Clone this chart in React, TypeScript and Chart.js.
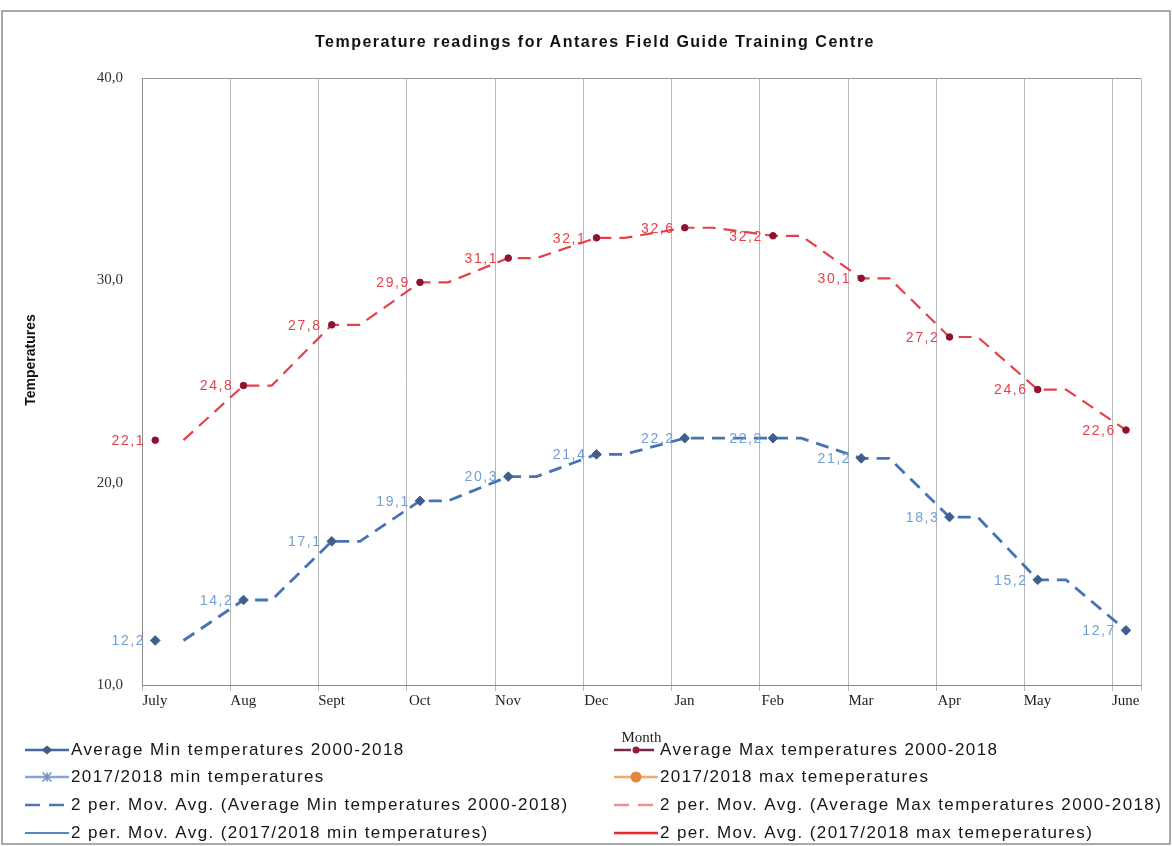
import React, { useEffect, useRef } from 'react';
import { Chart, registerables } from 'chart.js';

Chart.register(...registerables);

// ---------- data ----------
const months = ['July', 'Aug', 'Sept', 'Oct', 'Nov', 'Dec', 'Jan', 'Feb', 'Mar', 'Apr', 'May', 'June'];
const avgMinTemps = [12.2, 14.2, 17.1, 19.1, 20.3, 21.4, 22.2, 22.2, 21.2, 18.3, 15.2, 12.7];
const avgMaxTemps = [22.1, 24.8, 27.8, 29.9, 31.1, 32.1, 32.6, 32.2, 30.1, 27.2, 24.6, 22.6];
const min1718Temps: number[] = [];
const max1718Temps: number[] = [];
const yTickValues = [10, 20, 30, 40];

const chartTitle = 'Temperature readings for Antares Field Guide Training Centre';
const yTitle = 'Temperatures';
const xTitle = 'Month';

const seriesLabels = [
  'Average Min temperatures 2000-2018',
  'Average Max temperatures 2000-2018',
  '2017/2018 min temperatures',
  '2017/2018 max temeperatures',
  '2 per. Mov. Avg. (Average Min temperatures 2000-2018)',
  '2 per. Mov. Avg. (Average Max temperatures 2000-2018)',
  '2 per. Mov. Avg. (2017/2018 min temperatures)',
  '2 per. Mov. Avg. (2017/2018 max temeperatures)',
];

// ---------- layout / style constants ----------
const W = 1173;
const H = 846;
const X_MIN = -0.15;
const X_MAX = 11.17;
const TREND_SHIFT = 0.32;
const SANS = "'Liberation Sans', Arial, sans-serif";
const SERIF = "'Liberation Serif', 'Times New Roman', serif";

const fmt = (v: number) => v.toFixed(1).replace('.', ',');

function pointsOf(values: number[]) {
  return values.map((y, i) => ({ x: i, y }));
}

// 2-period moving-average trend drawn in the reference's stepped style
function trendOf(values: number[]) {
  const pts: { x: number; y: number }[] = [];
  for (let i = 1; i < values.length; i++) {
    pts.push({ x: i - 1 + TREND_SHIFT, y: values[i - 1] });
    pts.push({ x: i, y: values[i] });
  }
  return pts;
}

type LegendStyle = {
  color: string;
  width: number;
  dash: number[];
  marker: null | 'diamond' | 'star' | 'circle';
  markerColor?: string;
  markerSize?: number;
};

const legendStyles: LegendStyle[] = [
  { color: '#45699b', width: 2.5, dash: [], marker: 'diamond', markerColor: '#3d5d8a', markerSize: 4.5 },
  { color: '#7a2650', width: 2.5, dash: [17, 6], marker: 'circle', markerColor: '#951a3a', markerSize: 3.5 },
  { color: '#86a6cf', width: 2.5, dash: [], marker: 'star', markerColor: '#6f93c2', markerSize: 4.5 },
  { color: '#f0ab6c', width: 2.5, dash: [], marker: 'circle', markerColor: '#e2883c', markerSize: 5.5 },
  { color: '#4a76b8', width: 2.5, dash: [15, 9], marker: null },
  { color: '#f28f8f', width: 2.5, dash: [15, 9], marker: null },
  { color: '#5a86c2', width: 2, dash: [], marker: null },
  { color: '#e8262e', width: 2.5, dash: [], marker: null },
];

const labelColors: Record<number, string> = { 0: '#6f9fd4', 1: '#e63f49' };

function drawMarker(ctx: CanvasRenderingContext2D, kind: string, x: number, y: number, r: number, color: string) {
  ctx.save();
  ctx.fillStyle = color;
  ctx.strokeStyle = color;
  ctx.setLineDash([]);
  if (kind === 'diamond') {
    ctx.beginPath();
    ctx.moveTo(x, y - r);
    ctx.lineTo(x + r * 1.2, y);
    ctx.lineTo(x, y + r);
    ctx.lineTo(x - r * 1.2, y);
    ctx.closePath();
    ctx.fill();
  } else if (kind === 'circle') {
    ctx.beginPath();
    ctx.arc(x, y, r, 0, Math.PI * 2);
    ctx.fill();
  } else if (kind === 'star') {
    ctx.lineWidth = 1.6;
    ctx.beginPath();
    ctx.moveTo(x - r, y - r);
    ctx.lineTo(x + r, y + r);
    ctx.moveTo(x + r, y - r);
    ctx.lineTo(x - r, y + r);
    ctx.moveTo(x, y - r);
    ctx.lineTo(x, y + r);
    ctx.stroke();
  }
  ctx.restore();
}

const overlayPlugin = {
  id: 'overlay',
  afterDatasetsDraw(chart: any) {
    const ctx: CanvasRenderingContext2D = chart.ctx;
    [0, 1].forEach((di) => {
      const meta = chart.getDatasetMeta(di);
      const ds = chart.data.datasets[di];
      ctx.save();
      ctx.font = `14px ${SANS}`;
      (ctx as any).letterSpacing = '1.6px';
      ctx.fillStyle = labelColors[di];
      ctx.textAlign = 'right';
      ctx.textBaseline = 'middle';
      meta.data.forEach((el: any, i: number) => {
        const v = ds.data[i].y;
        ctx.fillText(fmt(v), el.x - 10, el.y + 1);
      });
      ctx.restore();
    });
  },
  afterDraw(chart: any) {
    const ctx: CanvasRenderingContext2D = chart.ctx;
    // title
    ctx.save();
    ctx.font = `bold 16px ${SANS}`;
    (ctx as any).letterSpacing = '1.5px';
    ctx.fillStyle = '#111';
    ctx.textAlign = 'center';
    ctx.textBaseline = 'middle';
    ctx.fillText(chartTitle, 595, 43);
    ctx.restore();

    // y title
    ctx.save();
    ctx.translate(31, 360);
    ctx.rotate(-Math.PI / 2);
    ctx.font = `bold 14px 'Liberation Sans Narrow', ${SANS}`;
    ctx.fillStyle = '#111';
    ctx.textAlign = 'center';
    ctx.textBaseline = 'middle';
    ctx.fillText(yTitle, 0, 0);
    ctx.restore();

    // legend (two columns)
    const rowsY = [750, 777, 805, 833];
    const colX = [25, 614];
    chart.data.datasets.forEach((ds: any, i: number) => {
      const st = legendStyles[i];
      const col = i % 2;
      const row = Math.floor(i / 2);
      const x0 = colX[col];
      const y = rowsY[row];
      ctx.save();
      ctx.strokeStyle = st.color;
      ctx.lineWidth = st.width;
      ctx.setLineDash(st.dash);
      ctx.beginPath();
      ctx.moveTo(x0, y);
      ctx.lineTo(x0 + 44, y);
      ctx.stroke();
      ctx.restore();
      if (st.marker) drawMarker(ctx, st.marker, x0 + 22, y, st.markerSize || 4, st.markerColor || st.color);
      ctx.save();
      ctx.font = `17px ${SANS}`;
      (ctx as any).letterSpacing = '1.4px';
      ctx.fillStyle = '#161616';
      ctx.textAlign = 'left';
      ctx.textBaseline = 'middle';
      ctx.fillText(ds.label, x0 + 46, y);
      ctx.restore();
    });

    // outer border
    ctx.save();
    ctx.strokeStyle = '#8c8c8c';
    ctx.lineWidth = 1.5;
    ctx.strokeRect(2, 11, 1168, 833);
    ctx.restore();
  },
};

export default function App() {
  const ref = useRef<HTMLCanvasElement | null>(null);

  useEffect(() => {
    if (!ref.current) return;
    const chart = new Chart(ref.current, {
      type: 'line',
      data: {
        datasets: [
          {
            label: seriesLabels[0],
            data: pointsOf(avgMinTemps),
            showLine: false,
            pointStyle: 'rectRot',
            pointRadius: 4.8,
            pointBackgroundColor: '#3e5f8c',
            pointBorderColor: '#3e5f8c',
            pointBorderWidth: 1,
            borderColor: '#3e5f8c',
            backgroundColor: '#3e5f8c',
          },
          {
            label: seriesLabels[1],
            data: pointsOf(avgMaxTemps),
            showLine: false,
            pointStyle: 'circle',
            pointRadius: 3.3,
            pointBackgroundColor: '#8e1330',
            pointBorderColor: '#8e1330',
            pointBorderWidth: 1,
            borderColor: '#8e1330',
            backgroundColor: '#8e1330',
          },
          { label: seriesLabels[2], data: pointsOf(min1718Temps), borderColor: '#86a6cf', pointRadius: 0 },
          { label: seriesLabels[3], data: pointsOf(max1718Temps), borderColor: '#f0ab6c', pointRadius: 0 },
          {
            label: seriesLabels[4],
            data: trendOf(avgMinTemps),
            borderColor: '#4673b6',
            borderWidth: 2.8,
            borderDash: [13, 8],
            pointRadius: 0,
            tension: 0,
            fill: false,
          },
          {
            label: seriesLabels[5],
            data: trendOf(avgMaxTemps),
            borderColor: '#e4414a',
            borderWidth: 2.2,
            borderDash: [13, 8],
            pointRadius: 0,
            tension: 0,
            fill: false,
          },
          { label: seriesLabels[6], data: trendOf(min1718Temps), borderColor: '#5a86c2', pointRadius: 0 },
          { label: seriesLabels[7], data: trendOf(max1718Temps), borderColor: '#e8262e', pointRadius: 0 },
        ],
      },
      options: {
        animation: false,
        responsive: false,
        maintainAspectRatio: false,
        layout: { padding: { left: 0, right: 32, top: 78, bottom: 97 } },
        plugins: {
          legend: { display: false },
          title: { display: false },
          tooltip: { enabled: false },
        },
        scales: {
          x: {
            type: 'linear',
            min: X_MIN,
            max: X_MAX,
            afterBuildTicks: (scale: any) => {
              scale.ticks = [...months.map((_, i) => ({ value: i + X_MIN })), { value: X_MAX }];
            },
            afterFit: (scale: any) => {
              scale.height = 64;
            },
            ticks: {
              autoSkip: false,
              maxRotation: 0,
              minRotation: 0,
              labelOffset: 13,
              padding: 1,
              color: '#222',
              font: { family: SERIF, size: 15 },
              callback: (_v: any, index: number) => months[index] ?? '',
            },
            grid: { color: '#b8b8b8', lineWidth: 1, drawTicks: true, tickLength: 6 },
            border: { display: true, color: '#8a8a8a', width: 1 },
            title: {
              display: true,
              text: xTitle,
              color: '#222',
              font: { family: SERIF, size: 15 },
              padding: { top: 0, bottom: 2 },
            },
          },
          y: {
            type: 'linear',
            min: yTickValues[0],
            max: yTickValues[yTickValues.length - 1],
            afterBuildTicks: (scale: any) => {
              scale.ticks = yTickValues.map((v) => ({ value: v }));
            },
            afterFit: (scale: any) => {
              scale.width = 142;
            },
            ticks: {
              padding: 19,
              color: '#333',
              font: { family: SERIF, size: 15 },
              callback: (v: any) => fmt(Number(v)),
            },
            grid: {
              drawTicks: false,
              color: (c: any) => (c.tick && c.tick.value === 40 ? '#9a9a9a' : 'rgba(0,0,0,0)'),
            },
            border: { display: true, color: '#8a8a8a', width: 1 },
          },
        },
      },
      plugins: [overlayPlugin],
    } as any);
    return () => chart.destroy();
  }, []);

  return (
    <div style={{ position: 'absolute', left: 0, top: 0, width: W, height: H, background: '#fff' }}>
      <canvas ref={ref} width={W} height={H} style={{ display: 'block', width: W, height: H }} />
    </div>
  );
}
